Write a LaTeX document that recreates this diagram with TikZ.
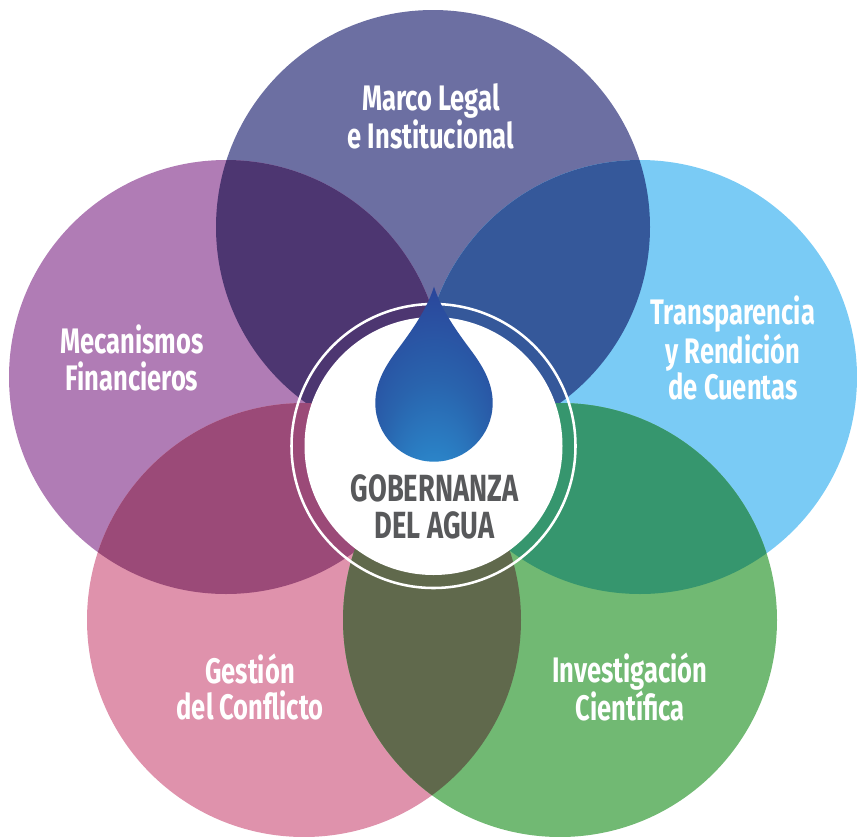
\documentclass[tikz,border=0pt]{standalone}
\usepackage{fontspec}
\setmainfont{Fira Sans}[FakeStretch=0.72]
\definecolor{topcol}{HTML}{6C6FA2}
\definecolor{leftcol}{HTML}{B07CB5}
\definecolor{rightcol}{HTML}{7ACBF5}
\definecolor{lowleftcol}{HTML}{DF92AC}
\definecolor{lowrightcol}{HTML}{71B973}
\definecolor{topleftcol}{HTML}{4D3671}
\definecolor{toprightcol}{HTML}{35589A}
\definecolor{leftlowcol}{HTML}{9B4A78}
\definecolor{rightlowcol}{HTML}{36966E}
\definecolor{lowlowcol}{HTML}{60694C}
\definecolor{titlecol}{HTML}{58595B}
\pgfdeclareradialshading{dropshade}{\pgfpoint{0bp}{-50bp}}{%
  rgb(0bp)=(0.19,0.67,0.90);
  rgb(8bp)=(0.17,0.56,0.82);
  rgb(22bp)=(0.16,0.39,0.68);
  rgb(42bp)=(0.17,0.20,0.56)}
\tikzset{
  petal label/.style={white, font=\bfseries\fontsize{26.6}{27.2}\selectfont, align=center},
  title label/.style={titlecol, font=\bfseries\fontsize{28.4}{27.3}\selectfont, align=center}
}
\begin{document}
\begin{tikzpicture}[x=0.75pt, y=-0.75pt]
	\clip (0,0) rectangle (857,836);

	% Centres
	\coordinate (top) at (433,227);
	\coordinate (left) at (226,377);
	\coordinate (right) at (640,377);
	\coordinate (lowleft) at (304,620);
	\coordinate (lowright) at (560,620);
	\coordinate (hub) at (433.5,446);

	% Petals
	\fill[topcol] (top) circle (217);
	\fill[leftcol] (left) circle (217);
	\fill[rightcol] (right) circle (217);
	\fill[lowleftcol] (lowleft) circle (217);
	\fill[lowrightcol] (lowright) circle (217);

	% Overlaps
	\begin{scope}
		\clip (top) circle (217);
		\fill[topleftcol] (left) circle (217);
		\fill[toprightcol] (right) circle (217);
	\end{scope}
	\begin{scope}
		\clip (lowleft) circle (217);
		\fill[leftlowcol] (left) circle (217);
		\fill[lowlowcol] (lowright) circle (217);
	\end{scope}
	\begin{scope}
		\clip (right) circle (217);
		\fill[rightlowcol] (lowright) circle (217);
	\end{scope}

	% Hub
	\fill[white] (hub) circle (129);
	\draw[white, line width=1.9pt] (hub) circle (142);

	% Drop
	\shade[shading=dropshade] (434,286.7)
		.. controls (440,306) and (452,325) .. (470,349)
		.. controls (482,365) and (492.7,382) .. (492.7,403)
		.. controls (492.7,435.3) and (466.3,461.7) .. (434,461.7)
		.. controls (401.7,461.7) and (375.3,435.3) .. (375.3,403)
		.. controls (375.3,382) and (386,365) .. (398,349)
		.. controls (416,325) and (428,306) .. (434,286.7) -- cycle;

	% Labels
	\node[title label] (hubtext) at (434.5,507) {GOBERNANZA\\DEL AGUA};
	\node[petal label] (toptext) at (431,116) {Marco Legal\\e Institucional};
	\node[petal label] (lefttext) at (132,358) {Mecanismos\\Financieros};
	\node[petal label] (righttext) at (733,348) {Transparencia\\y Rendición\\de Cuentas};
	\node[petal label] (lowlefttext) at (250,687) {Gestión\\del Conflicto};
	\node[petal label] (lowrighttext) at (630,687) {Investigación\\Científica};
\end{tikzpicture}
\end{document}
